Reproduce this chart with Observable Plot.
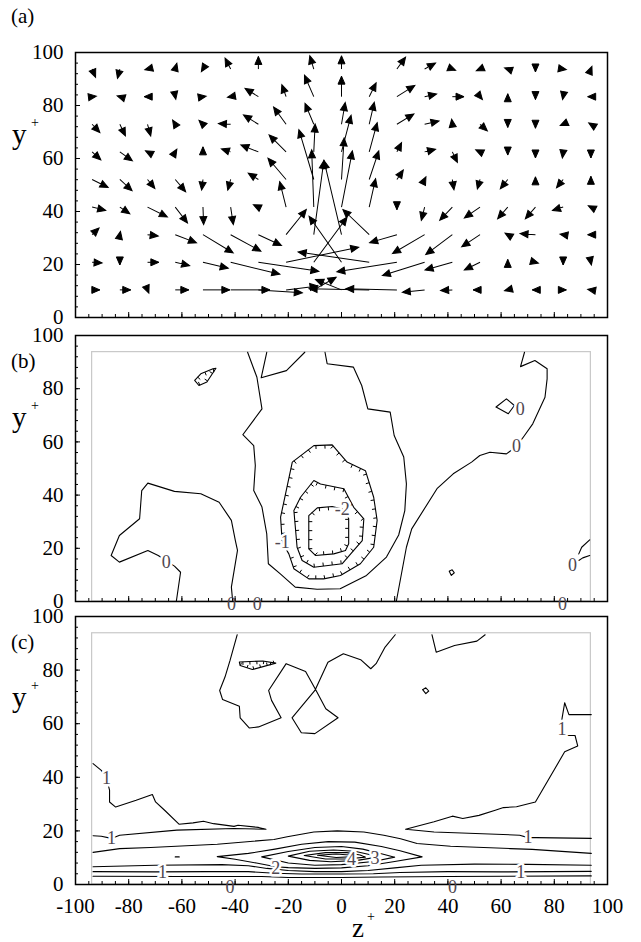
<!DOCTYPE html>
<html>
<head>
<meta charset="utf-8">
<script src="https://cdn.jsdelivr.net/npm/d3@7"></script>
<script src="https://cdn.jsdelivr.net/npm/@observablehq/plot@0.6"></script>
<style>
  body { margin: 0; background: #fff; }
  #fig { position: relative; width: 641px; height: 942px; font-family: "Liberation Serif", "Times New Roman", serif; }
  #fig svg { position: absolute; left: 0; overflow: visible; }
  #fig svg, #fig svg text { font-family: "Liberation Serif", "Times New Roman", serif !important; }
</style>
</head>
<body>
<div id="fig"></div>
<script>
// ---------- grid of the averaged velocity field (panel a) ----------
const gridZ = [-93.75, -83.33, -72.92, -62.5, -52.08, -41.67, -31.25, -20.83, -10.42, 0,
               10.42, 20.83, 31.25, 41.67, 52.08, 62.5, 72.92, 83.33, 93.75];
const gridY = [93.75, 83.33, 72.92, 62.5, 52.08, 41.67, 31.25, 20.83, 10.42]; // top row first

// spanwise component W and wall-normal component V, one row per gridY value
const W = [
  [1.3, -0.9, -1, 0.6, -0.6, -2.1, 0, null, -1.5, 0, null, 3.25, 4.1, 1.25, -1.4, -1.2, 0, 1.2, 0.4],
  [1.6, -1, -1.25, 0.2, 1.2, -1.2, -5, -1.6, -3.5, 0, 2.6, 6.75, 4.5, 4.4, 0.9, 0, 0, -0.2, -1.2],
  [2.9, 2.1, 1.2, -1, -1.5, -4.6, -5.6, -4.7, -3.3, 1.4, 1.9, 6.4, 5.4, -0.25, 2.75, 0, 0, -1.1, -0.8],
  [3.25, 4.75, -0.75, 0.6, 0, -3.5, -6.6, -6.4, 0.5, 3.6, 3, 1.75, 4.1, 1.9, -1.6, 0, 0, -0.3, 0],
  [6, 4.6, 2.75, 3.9, -0.5, -1.1, -3.8, -6.8, -5.6, 1, 3.6, 2.4, 0.5, 0.6, -1, -2.8, 0, -2.5, 0],
  [5.1, 3.75, 7.5, 4.6, 0.25, 1, -1.9, -2.4, -0.8, 4.1, 2.4, 0, -1.25, -4.75, -5.9, -3.8, -3.8, -4, -1],
  [2.6, 0.25, 4, 8, 11.4, 11.4, 8.7, 7.6, 3.8, -6.6, -9.9, -10.25, -12.1, -10, -6.9, -1, -5.8, -1.2, -1.2],
  [3.75, 0, 4.25, 5.4, 9.5, 18.5, 22.75, 27.3, 12.5, -12.2, -26.7, -22.6, -15.9, -10.25, -5.9, 0, 1.1, 0, 0.2],
  [2.9, 4.1, 0.5, 5.1, 10.1, 14.75, 16.5, 12, 8.4, -9.75, -22.6, -19.25, -8.4, -4.4, -2.6, -1.2, -1.2, 1.2, -1.2]
];
const V = [
  [-3.1, -3.5, -0.25, 2.2, -1, 4.1, 4.75, null, 5, 5, null, 4.5, 2.25, -0.5, -0.6, 0.4, -1.1, -0.2, 1],
  [0.2, 0.3, 0, -1, 0.2, -0.2, 3.1, 4.5, 8.1, 7.75, 5.25, 4.25, 1, 0, -1.1, 1.1, -1.1, -1.1, 0],
  [-3.1, -4.4, -4.4, 1.6, 1.5, 0.25, 3.5, 6.5, 7.9, 8.2, 8.3, 3.9, 1.25, 1.9, -2.5, -1.2, -1.5, -0.5, 0.5],
  [-3, -3.4, 0.4, 1, 1.9, 1.1, 2.6, 6.4, 10.5, 13.8, 11, 3.5, 1, -4, 0.75, -1.2, -2.3, -2.3, -2.3],
  [-3, -4.25, -3.4, -4.6, -4, -4, 2.4, 8, 18.8, 15.7, 10.8, 3.6, 1, -3.9, -3.6, -3.5, 1, -3.1, 1.2],
  [-1.25, -2.5, -3.75, -6, -6.6, -6.6, 0.9, 9.6, 21.6, 21.2, 10.7, -1, -5, -5, -4.1, -4.4, -4.4, -1.25, 0.5],
  [2.5, 1.25, -0.5, -3.1, -6.9, -6.25, -4.1, 9.5, 28, 28, 9.5, -3, -7.1, -7.5, -4.6, 0.6, 0.4, 0.2, 0],
  [-0.25, -1, 0, -1.25, -2.25, -4.5, -3.4, 5.7, 17, 17.4, 3.9, -3.6, -5, -2.9, -2.9, 1.1, -0.3, -1, -1],
  [0, 0, -1.25, 0, 0, 0, -1.1, 1.5, 4.75, 3.9, 0.4, 0.4, -0.9, -0.25, 0, -0.3, 0, 0, 0.2]
];

// ---------- axis ticks ----------
const xMajor = [-100, -80, -60, -40, -20, 0, 20, 40, 60, 80, 100];
const xMinor = d3.range(-100, 101, 5);
const yMajor = [0, 20, 40, 60, 80, 100];
const yMinor = d3.range(0, 101, 4);

// ---------- panel (b): contour lines ----------
const bLeft0 = [[-62.1,0],[-60.5,11.0],[-62.8,13.3],[-68.9,17.3],[-72.8,19.2],[-83.5,14.8],[-86.6,17.3],[-83.5,24.8],[-75.9,31.1],[-75.1,41.7],[-72.8,44.5],[-62.8,41.4],[-52.9,40.5],[-46.0,37.3],[-41.4,30.5],[-39.9,22.9],[-39.1,19.2],[-41.4,5.4],[-40.9,0]];
const bU0 = [[-35.3,93.7],[-31.8,84.3],[-29.9,72.4],[-37.1,62.7],[-33.0,58.6],[-32.4,51.1],[-33.0,41.7],[-29.9,35.5],[-28.1,25.4],[-27.5,14.2],[-23.0,10.4],[-17.4,5.4],[-9.2,4.6],[-0.5,4.8],[9.4,9.8],[16.9,16.7],[21.5,25.0],[23.8,34.2],[24.4,44.2],[23.4,54.3],[19.8,62.4],[18.3,71.2],[9.9,72.4],[7.6,81.2],[4.5,88.1],[-5.4,89.4],[-6.2,93.7]];
const bNotch = [[-28.1,93.7],[-30.2,84.1],[-20.7,86.8],[-13.8,93.7]];
const bRight0 = [[20.6,0],[24.4,20.4],[26.4,27.3],[35.9,42.4],[42.0,48.0],[48.9,52.4],[52.0,54.9],[55.8,56.1],[62.0,55.5],[65.8,58.3],[68.8,62.4],[71.9,66.8],[76.5,76.8],[77.3,83.7],[77.3,87.5],[72.7,90.6],[67.3,88.3],[68.8,93.7]];
const bDiamond = [[58.1,73.1],[62.0,76.2],[65.0,73.7],[62.7,70.6],[58.1,73.1]];
const bSpot = [[40.5,11.4],[41.6,11.9],[42.4,10.8],[41.3,9.8],[40.5,11.4]];
const bEdgeA = [[93.3,23.2],[90.3,20.4],[89.2,17.9]];
const bEdgeB = [[93.3,17.3],[90.7,16.4],[89.2,15.4]];
const bM1 = [[-22.9,31.7],[-18.5,52.4],[-10.4,58.6],[-3.5,58.9],[2.1,52.4],[9.0,49.2],[12.1,39.2],[13.4,30.5],[12.1,20.4],[7.1,14.2],[-0.4,9.8],[-6.7,8.5],[-12.3,8.5],[-17.9,12.3],[-19.8,17.9],[-22.3,22.3],[-22.9,31.7]];
const bM15 = [[-17.9,34.2],[-15.4,39.2],[-10.4,45.5],[-7.9,44.2],[0.9,42.4],[4.6,35.4],[8.4,31.1],[7.8,22.9],[4.6,19.2],[0.3,14.2],[-10.4,12.9],[-14.8,15.4],[-16.7,20.4],[-17.9,34.2]];
const bM2 = [[-12.3,32.3],[-9.1,35.2],[-3.5,35.7],[0.3,34.8],[2.1,33.0],[2.7,31.1],[2.7,21.7],[1.5,19.2],[-2.9,17.9],[-9.8,17.3],[-12.3,19.8],[-12.3,32.3]];
const bNegSpot = [[-55.2,83.1],[-52.9,85.6],[-48.3,87.5],[-47.2,87.7],[-50.6,82.5],[-53.6,81.2],[-55.2,83.1]];
const bLabels = [
  {z: -22.3, y: 22.3, t: "-1"}, {z: 0.3, y: 34.6, t: "-2"}, {z: -65.9, y: 14.8, t: "0"},
  {z: 65.8, y: 58.3, t: "0"}, {z: 67.2, y: 72.4, t: "0"}, {z: 86.8, y: 13.5, t: "0"}
];
const bEdgeLabels = [{z: -41.4, t: "0"}, {z: -31.7, t: "0"}, {z: 83.1, t: "0"}];

// ---------- panel (c): contour lines ----------
const cTopLeft = [[-39.2,93.2],[-41.9,83.6],[-43.8,77.4],[-45.8,72.4],[-44.7,69.0],[-38.4,66.5],[-38.1,62.2],[-34.7,58.4],[-31.2,58.8],[-22.7,62.2],[-26.3,68.7],[-27.4,72.4],[-20.8,82.4],[-13.5,79.5],[-9.7,72.7],[-5.9,65.6],[-1.3,62.2],[-10.0,56.3],[-15.1,56.6],[-18.6,62.2],[-10.0,72.4],[-5.1,82.9],[0.7,86.1],[7.2,83.9],[11.0,80.5],[13.0,82.4],[16.4,88.6],[20.2,93.2]];
const cTopRight = [[34.0,93.2],[35.6,86.7],[42.5,89.2],[50.9,90.8],[54.0,93.2]];
const cSliver = [[-38.4,83.0],[-29.6,83.4],[-24.7,82.6],[-33.5,80.2],[-38.1,81.7],[-38.4,83.0]];
const cDot = [[30.5,72.7],[31.7,73.4],[32.8,72.2],[31.7,71.2],[30.5,72.7]];
const cLeft1 = [[-93.4,45.1],[-90.3,42.6],[-88.3,39.5],[-87.2,35.2],[-87.2,30.8],[-84.9,28.9],[-77.2,31.4],[-71.1,33.6],[-69.9,30.8],[-66.5,27.7],[-61.1,22.5],[-55.8,23.0],[-51.9,23.6],[-48.1,22.7],[-40.4,21.7],[-38.9,22.1],[-31.2,21.3],[-28.4,20.6],[-40.4,20.9],[-61.9,20.3],[-83.4,18.4],[-86.5,17.2],[-90.3,18.0],[-93.4,18.2]];
const cRight1 = [[93.9,63.4],[85.5,63.4],[83.9,67.8],[82.9,61.9],[82.9,58.1],[84.4,55.6],[87.8,55.6],[88.8,51.7],[83.9,49.5],[72.9,30.8],[65.8,29.0],[60.9,28.7],[57.8,27.7],[51.7,25.8],[45.6,24.6],[41.7,25.5],[34.8,23.4],[24.1,20.6],[34.8,19.6],[67.0,18.4],[70.1,17.5],[73.2,17.5],[93.9,17.2]];
const cBand15 = [[-93.4,12.0],[-83.4,13.4],[-71.8,13.8],[-46.7,15.0],[-25.4,16.8],[-20.4,17.8],[-10.4,19.6],[-1.6,20.0],[8.4,19.6],[15.9,18.4],[22.2,17.1],[28.4,15.3],[41,14.3],[63.5,13.4],[71.7,13.1],[93.9,11.6]];
const cLoop2 = [[-46.7,10.4],[-35,11.6],[-25,13.2],[-15,15.0],[-5,16.0],[5,15.8],[15,14.2],[22,12.6],[30.3,10.3],[20,8.6],[10,7.0],[0,6.2],[-10,6.0],[-20,6.3],[-24.7,6.6],[-32,8.0],[-40,9.4],[-46.7,10.4]];
const cLoop25 = [[-30,10.3],[-20,12.3],[-10,13.8],[0,14.2],[8,13.2],[15,11.5],[20,10.2],[12,8.6],[0,7.4],[-10,7.2],[-20,8.0],[-30,10.3]];
const cLoop3 = [[-20,10.6],[-12,12.4],[-3,12.9],[5,12.4],[10,11.3],[14,10.3],[6,9.0],[-4,8.5],[-12,9.0],[-20,10.6]];
const cLoop35 = [[-14,10.8],[-6,11.9],[2,11.9],[7,11.0],[9,10.2],[2,9.5],[-6,9.5],[-14,10.8]];
const cLoop4 = [[-9,10.9],[-2,11.4],[3,11.0],[5,10.4],[-2,10.1],[-9,10.9]];
const cWall15 = [[-93.4,6.6],[-70,7.2],[-45,7.4],[-35,7.0],[-28,6.0],[-20,5.2],[-10,4.8],[0,4.8],[10,5.2],[20,6.2],[30,7.2],[50,7.6],[70,7.5],[93.9,7.2]];
const cWall1 = [[-93.4,4.8],[-70,4.7],[-50,4.8],[-35,4.8],[-25,4.2],[-15,3.9],[0,3.9],[12,4.0],[22,4.5],[40,4.8],[60,4.7],[93.9,4.9]];
const cWall05 = [[-93.4,3.1],[-60,3.0],[-30,3.0],[-20,2.6],[0,2.6],[15,2.8],[40,3.0],[93.9,3.2]];
const cDash = [[-62.5,10.3],[-61,10.3]];
const cLabels = [
  {z: -88.3, y: 39.5, t: "1"}, {z: 82.9, y: 58.1, t: "1"}, {z: -86.5, y: 17.2, t: "1"},
  {z: 70.1, y: 17.5, t: "1"}, {z: -67.3, y: 4.4, t: "1"}, {z: 67.4, y: 4.4, t: "1"},
  {z: -24.7, y: 6.0, t: "2"}, {z: 3.8, y: 9.5, t: "4"}, {z: 12.6, y: 9.7, t: "3"}
];
const cEdgeLabels = [{z: -41.9, t: "0"}, {z: 41.7, t: "0"}];

// ---------- layout ----------
const W_PX = 641, ML = 75, MR = 34;
const kx = (W_PX - ML - MR) / 200;           // px per z unit
const labelInk = "#4f4750";
const serif = "Liberation Serif, Times New Roman, serif";

function baseMarks(withXLabels) {
  return [
    Plot.axisY(yMinor, {tickSize: -3, tickFormat: () => "", label: null}),
    Plot.axisY(yMajor, {tickSize: -5, tickPadding: 17, tickFormat: d => String(d), label: null, fontSize: 21, fontFamily: serif}),
    Plot.axisX(xMinor, {tickSize: -3, tickFormat: () => "", label: null}),
    Plot.axisX(xMajor, {tickSize: -5, tickPadding: 19, tickFormat: withXLabels ? (d => String(d)) : () => "", label: null, fontSize: 21, fontFamily: serif}),
    Plot.frame({stroke: "black", strokeWidth: 1.5})
  ];
}

function plotOpts(top, height, mt, mb, marks) {
  const p = Plot.plot({
    width: W_PX, height, marginLeft: ML, marginRight: MR, marginTop: mt, marginBottom: mb,
    x: {domain: [-100, 100]}, y: {domain: [0, 100]},
    length: {type: "identity"},
    style: {fontFamily: serif, fontSize: "21px", background: "transparent", overflow: "visible"},
    marks
  });
  p.style.top = top + "px";
  return p;
}

// tick marks along a closed contour, pointing toward its interior
function contourTicks(pts, ky, step, len) {
  const P = pts.map(p => [p[0] * kx, -p[1] * ky]);
  const cx = d3.mean(P, p => p[0]), cy = d3.mean(P, p => p[1]);
  const out = [];
  let carry = step / 2;
  for (let i = 0; i < P.length - 1; i++) {
    const [ax, ay] = P[i], [bx, by] = P[i + 1];
    const L = Math.hypot(bx - ax, by - ay);
    let t = carry;
    while (t < L) {
      const px = ax + (bx - ax) * t / L, py = ay + (by - ay) * t / L;
      let nx = -(by - ay) / L, ny = (bx - ax) / L;
      if ((cx - px) * nx + (cy - py) * ny < 0) { nx = -nx; ny = -ny; }
      out.push({x1: px / kx, y1: -py / ky, x2: (px + nx * len) / kx, y2: -(py + ny * len) / ky});
      t += step;
    }
    carry = t - L;
  }
  return out;
}

const fig = document.getElementById("fig");

// ---------- panel (a): vectors ----------
const kyA = 265 / 100;
const vec = [];
gridY.forEach((y, j) => gridZ.forEach((z, k) => {
  const w = W[j][k], v = V[j][k];
  if (w == null || v == null) return;
  vec.push({z, y, w, v});
}));
const headL = 8, headW = 3.5;
const arrowShape = {
  draw(ctx, l) {
    ctx.moveTo(0, 0);
    ctx.lineTo(0, -l);
    ctx.moveTo(0, -l);
    ctx.lineTo(-headW, -l + headL);
    ctx.lineTo(headW, -l + headL);
    ctx.closePath();
  }
};
fig.appendChild(plotOpts(0, 327, 52, 10, [
  ...baseMarks(false),
  Plot.vector(vec, {
    x: "z", y: "y", anchor: "start", shape: arrowShape,
    length: d => Math.hypot(d.w * kx, d.v * kyA),
    rotate: d => Math.atan2(d.w * kx, d.v * kyA) * 180 / Math.PI,
    stroke: "black", fill: "black", strokeWidth: 1, strokeLinejoin: "miter", strokeLinecap: "butt"
  })
]));

// ---------- contour panels ----------
const domainRect = [{x1: d3.min(gridZ), x2: d3.max(gridZ), y1: 0, y2: d3.max(gridY)}];
const line = (pts) => Plot.line(pts, {x: d => d[0], y: d => d[1], stroke: "black", strokeWidth: 1.1, curve: "linear"});
const labelMark = (data) => Plot.text(data, {x: "z", y: "y", text: "t", fill: labelInk, fontSize: 18, fontFamily: serif,
  stroke: "white", strokeWidth: 5, paintOrder: "stroke"});
const edgeLabelMark = (data) => Plot.text(data, {x: "z", y: () => -0.9, text: "t", fill: labelInk, fontSize: 18, fontFamily: serif});
const tickMark = (data) => Plot.link(data, {x1: "x1", y1: "y1", x2: "x2", y2: "y2", stroke: "black", strokeWidth: 1});

const kyB = 266 / 100;
fig.appendChild(plotOpts(326, 283, 9, 8, [
  Plot.rect(domainRect, {x1: "x1", x2: "x2", y1: "y1", y2: "y2", fill: "none", stroke: "#c8c8c8", strokeWidth: 1.2}),
  ...[bLeft0, bU0, bNotch, bRight0, bDiamond, bSpot, bEdgeA, bEdgeB, bM1, bM15, bM2, bNegSpot].map(line),
  ...[bM1, bM15, bM2, bNegSpot].map(c => tickMark(contourTicks(c, kyB, 9, 3.5))),
  labelMark(bLabels),
  ...baseMarks(false),
  edgeLabelMark(bEdgeLabels)
]));

const kyC = 268 / 100;
fig.appendChild(plotOpts(607, 335, 9, 58, [
  Plot.rect(domainRect, {x1: "x1", x2: "x2", y1: "y1", y2: "y2", fill: "none", stroke: "#c8c8c8", strokeWidth: 1.2}),
  ...[cTopLeft, cTopRight, cSliver, cDot, cLeft1, cRight1, cBand15, cLoop2, cLoop25, cLoop3, cLoop35, cLoop4, cWall15, cWall1, cWall05, cDash].map(line),
  tickMark(contourTicks(cSliver, kyC, 7, 3)),
  labelMark(cLabels),
  ...baseMarks(true),
  edgeLabelMark(cEdgeLabels)
]));

// ---------- panel letters and axis titles ----------
const ns = "http://www.w3.org/2000/svg";
const over = document.createElementNS(ns, "svg");
over.setAttribute("width", 641); over.setAttribute("height", 942);
over.style.top = "0px"; over.style.pointerEvents = "none";
function txt(x, y, s, size, anchor = "start") {
  const t = document.createElementNS(ns, "text");
  t.setAttribute("x", x); t.setAttribute("y", y);
  t.setAttribute("font-size", size); t.setAttribute("text-anchor", anchor);
  t.setAttribute("font-family", serif);
  t.textContent = s; over.appendChild(t);
}
[["(a)", 23], ["(b)", 368], ["(c)", 649]].forEach(([s, y]) => txt(11, y, s, 21));
[144, 427, 707].forEach(y => { txt(12, y, "y", 29); txt(31, y - 17, "+", 14); });
txt(352, 937, "z", 27); txt(367, 921, "+", 14);
fig.appendChild(over);
</script>
</body>
</html>
